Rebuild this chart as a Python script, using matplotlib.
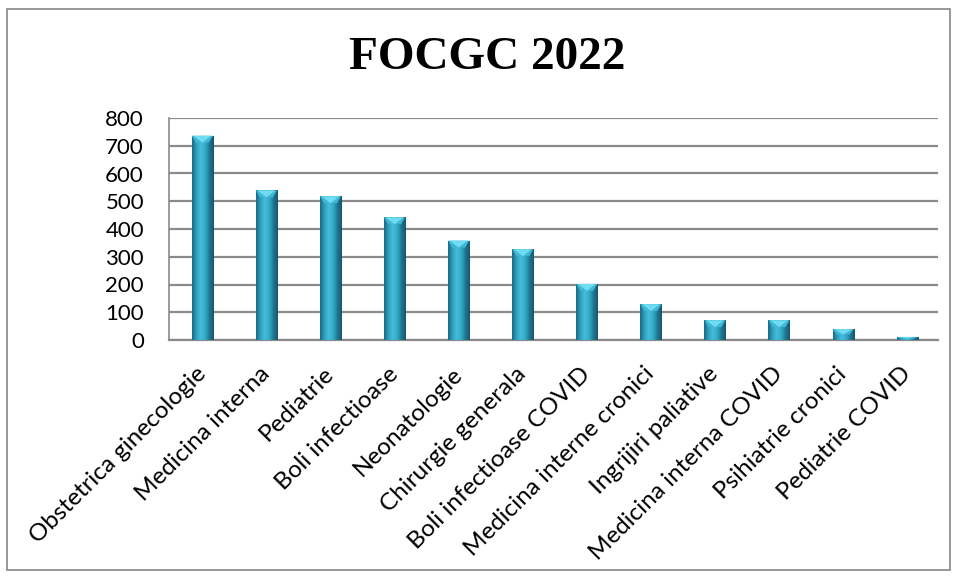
import numpy as np
import matplotlib
matplotlib.use("Agg")
import matplotlib.pyplot as plt
from matplotlib.patches import Polygon, Rectangle
from matplotlib.colors import LinearSegmentedColormap

# date
sectii = ["Obstetrica ginecologie", "Medicina interna", "Pediatrie", "Boli infectioase",
          "Neonatologie", "Chirurgie generala", "Boli infectioase COVID",
          "Medicina interne cronici", "Ingrijiri paliative", "Medicina interna COVID",
          "Psihiatrie cronici", "Pediatrie COVID"]
valori = [736, 539, 518, 442, 358, 327, 202, 129, 71, 71, 39, 11]
yticks = [0, 100, 200, 300, 400, 500, 600, 700, 800]
titlu = "FOCGC 2022"

plt.rcParams['font.family'] = ['Lato', 'DejaVu Sans']

fig = plt.figure(figsize=(9.57, 5.78), dpi=100)
ax = fig.add_axes([169/957, 1-340/578, (938-169)/957, (340-118)/578])

x = np.arange(len(valori))
w = 0.33
bars = ax.bar(x, valori, width=w, color="#2c9dbd", zorder=3, edgecolor="none")

# gradient orizontal pe fiecare bara (efect cilindru)
cmap = LinearSegmentedColormap.from_list("c", ["#1a6a80", "#2e9fc0", "#45bedd", "#35aacb", "#1f7892", "#15566a"])
grad = np.linspace(0, 1, 64).reshape(1, -1)
for b, v in zip(bars, valori):
    x0 = b.get_x()
    im = ax.imshow(grad, cmap=cmap, aspect="auto", extent=[x0, x0 + w, 0, v],
                   zorder=4, interpolation="bicubic")
    im.set_clip_path(b)
    # capacul bevel
    d = min(25, v * 0.5)
    ax.add_patch(Polygon([[x0, v], [x0 + w, v], [x0 + w*0.8, v - d], [x0 + w*0.2, v - d]],
                         closed=True, facecolor="#3fb6d6", edgecolor="none", zorder=5))
    ax.add_patch(Polygon([[x0 + w*0.08, v], [x0 + w*0.92, v], [x0 + w/2, v - d]],
                         closed=True, facecolor="#6fdcf2", edgecolor="none", zorder=6))

ax.set_xlim(-0.52, 11.48)
ax.set_ylim(0, 800)
ax.set_yticks(yticks)
ax.set_yticklabels([str(t) for t in yticks], fontsize=16)
ax.yaxis.grid(True, color="#8a8a8a", linewidth=1.6, zorder=0)
ax.set_axisbelow(True)
ax.tick_params(axis="y", length=0, pad=18)
ax.tick_params(axis="x", length=0, pad=22)
ax.set_xticks(x)
ax.set_xticklabels(sectii, rotation=45, ha="right", va="center",
                   rotation_mode="anchor", fontsize=17.5)

for s in ["top", "right"]:
    ax.spines[s].set_visible(False)
ax.spines["left"].set_color("#8a8a8a")
ax.spines["bottom"].set_color("#8a8a8a")
ax.spines["left"].set_linewidth(1.2)
ax.spines["bottom"].set_linewidth(1.6)

fig.text(487/957, 1-58/578, titlu, ha="center", va="center", fontsize=34,
         fontweight="bold", family="Liberation Serif")

# chenarul exterior
fig.patches.append(Rectangle((7/957, 1-570/578), (950-7)/957, (570-9)/578,
                             transform=fig.transFigure, fill=False,
                             edgecolor="#868686", linewidth=1.2))

fig.savefig("out.png", dpi=100)
